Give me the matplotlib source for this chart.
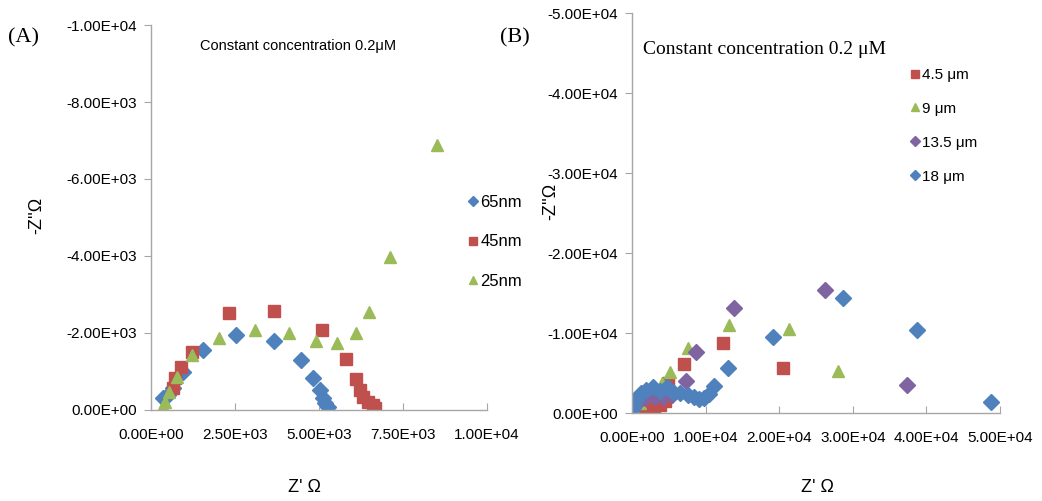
import numpy as np
import matplotlib
matplotlib.use('Agg')
import matplotlib.pyplot as plt
from matplotlib.ticker import FuncFormatter, MultipleLocator

# panel A : Nyquist data for three particle sizes (Z' , Z'')
x_65 = [357, 506, 655, 952, 1548, 2530, 3661, 4464, 4821, 5030, 5119, 5179, 5268]
y_65 = [-312, -390, -571, -987, -1558, -1948, -1792, -1299, -831, -519, -312, -182, -78]
x_45 = [655, 714, 893, 1220, 2321, 3661, 5089, 5803, 6101, 6220, 6310, 6458, 6607, 6667]
y_45 = [-571, -831, -1117, -1506, -2519, -2571, -2078, -1325, -805, -519, -338, -208, -130, -52]
x_25 = [357, 417, 536, 774, 1220, 2024, 3095, 4107, 4910, 5536, 6101, 6488, 7113, 8512]
y_25 = [-104, -208, -467, -857, -1428, -1870, -2078, -2000, -1792, -1740, -2000, -2545, -3974, -6883]

# panel B : four electrode gaps
x_4p5 = [680, 1495, 2310, 2990, 3805, 4485, 4892, 7067, 12367, 20521]
y_4p5 = [-375, -750, -1000, -750, -1000, -1500, -3750, -6125, -8750, -5625]
x_9 = [200, 272, 1087, 2446, 4077, 5164, 7610, 13182, 21336, 27995]
y_9 = [-100, -375, -1250, -2250, -3750, -5125, -8125, -11000, -10500, -5250]
x_13p5 = [408, 1767, 3126, 4213, 5436, 7339, 8698, 13862, 26229, 37373]
y_13p5 = [-1000, -1875, -2000, -2000, -2250, -4000, -7625, -13125, -15375, -3500]
x_18 = [200, 272, 680, 1223, 1903, 2854, 3805, 4757, 5572, 6523, 7610, 8426, 9105,
        9785, 10464, 11144, 13046, 19162, 28675, 38731, 48788]
y_18 = [-625, -1250, -1875, -2500, -2875, -3250, -2750, -3250, -2625, -2500, -2250,
        -2000, -1750, -1875, -2375, -3375, -5625, -9500, -14375, -10375, -1375]

BLUE, RED, GREEN, PURPLE = '#4F81BD', '#C0504D', '#9BBB59', '#8064A2'
SANS = ['Liberation Sans', 'DejaVu Sans']
SERIF = ['Liberation Serif', 'DejaVu Serif']


def sci(v, pos):
    if abs(v) < 1e-9:
        return '0.00E+00'
    return '%.2E' % v


def style_axes(ax, xmax, xstep, ymax, ystep):
    ax.set_xlim(0, xmax)
    ax.set_ylim(0, -ymax)
    ax.xaxis.set_major_locator(MultipleLocator(xstep))
    ax.yaxis.set_major_locator(MultipleLocator(ystep))
    ax.xaxis.set_major_formatter(FuncFormatter(sci))
    ax.yaxis.set_major_formatter(FuncFormatter(sci))
    for s in ['top', 'right']:
        ax.spines[s].set_visible(False)
    for s in ['left', 'bottom']:
        ax.spines[s].set_color('#A6A6A6')
        ax.spines[s].set_linewidth(1.0)
    ax.tick_params(axis='x', direction='in', length=5, color='#A6A6A6', pad=13)
    ax.tick_params(axis='y', direction='out', length=5, color='#A6A6A6', pad=5)
    for lab in ax.get_xticklabels() + ax.get_yticklabels():
        lab.set_family(SANS)
        lab.set_fontsize(11)
    ax.set_xlabel("Z' \u03a9", family=SANS, fontsize=13)
    ax.set_ylabel("-Z''\u03a9", family=SANS, fontsize=13)


fig = plt.figure(figsize=(10.42, 5.01), dpi=100)
axA = fig.add_axes([0.145, 0.182, 0.322, 0.768])
axB = fig.add_axes([0.6065, 0.1756, 0.3532, 0.7984])

axA.plot(x_65, y_65, 'D', color=BLUE, ms=8, label='65nm')
axA.plot(x_45, y_45, 's', color=RED, ms=9, label='45nm')
axA.plot(x_25, y_25, '^', color=GREEN, ms=9, label='25nm')
style_axes(axA, 10000, 2500, 10000, 2000)
axA.xaxis.set_label_coords(0.458, -0.18)
axA.yaxis.set_label_coords(-0.315, 0.506)
axA.legend(loc='upper left', bbox_to_anchor=(0.925, 0.575), frameon=False,
           handlelength=0.6, handletextpad=0.15, labelspacing=1.45,
           borderaxespad=0, markerscale=0.7,
           prop={'family': SANS, 'size': 12})
axA.text(0.145, 0.965, 'Constant concentration 0.2\u03bcM', transform=axA.transAxes,
         family=SANS, fontsize=10.5, va='top')

axB.plot(x_4p5, y_4p5, 's', color=RED, ms=9, label='4.5 \u03bcm')
axB.plot(x_9, y_9, '^', color=GREEN, ms=9, label='9 \u03bcm')
axB.plot(x_13p5, y_13p5, 'D', color=PURPLE, ms=8, label='13.5 \u03bcm')
axB.plot(x_18, y_18, 'D', color=BLUE, ms=8, label='18 \u03bcm')
style_axes(axB, 50000, 10000, 50000, 10000)
axB.xaxis.set_label_coords(0.505, -0.166)
axB.yaxis.set_label_coords(-0.198, 0.53)
axB.legend(loc='upper left', bbox_to_anchor=(0.74, 0.878), frameon=False,
           handlelength=0.6, handletextpad=0.15, labelspacing=1.3,
           borderaxespad=0, markerscale=0.7,
           prop={'family': SANS, 'size': 11})
axB.text(0.03, 0.93, 'Constant concentration 0.2 \u03bcM', transform=axB.transAxes,
         family=SERIF, fontsize=14, va='top')

fig.text(0.008, 0.915, '(A)', family=SERIF, fontsize=16)
fig.text(0.48, 0.915, '(B)', family=SERIF, fontsize=16)

fig.savefig('out.png', dpi=100)
